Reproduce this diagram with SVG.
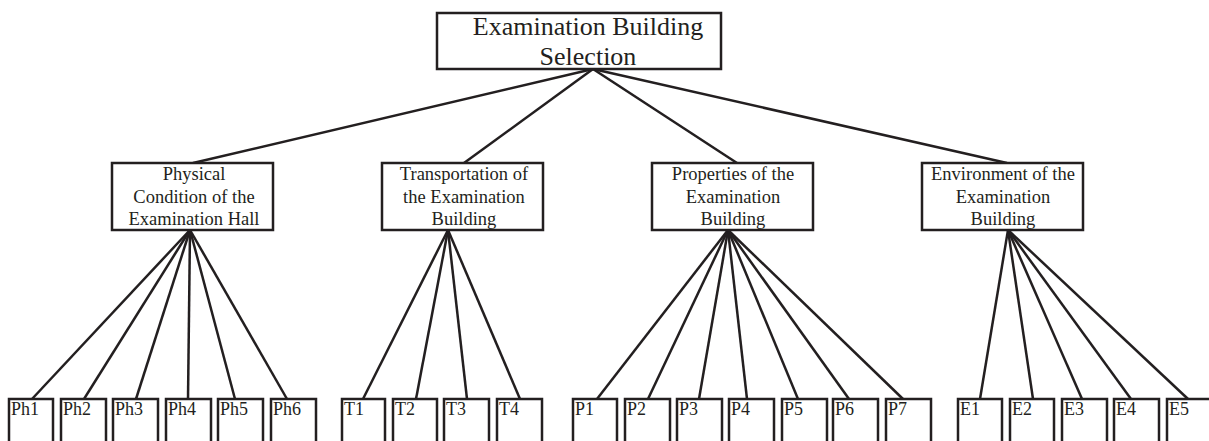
<svg xmlns="http://www.w3.org/2000/svg" width="1209" height="441" viewBox="0 0 1209 441">
<style>
rect{fill:#fff;stroke:#231f20;stroke-width:2.5}
line{stroke:#231f20;stroke-width:2.5}
text{font-family:"Liberation Serif",serif;fill:#231f20}
.t{font-size:26px;text-anchor:middle}
.m{font-size:18.5px;text-anchor:middle}
.l{font-size:18px}
</style>
<g id="connectors">
<line x1="593" y1="69" x2="193" y2="163"/>
<line x1="593" y1="69" x2="464" y2="163"/>
<line x1="593" y1="69" x2="737" y2="163"/>
<line x1="593" y1="69" x2="1007" y2="163"/>
<line x1="190" y1="230" x2="32" y2="399"/>
<line x1="190" y1="230" x2="84" y2="399"/>
<line x1="190" y1="230" x2="136" y2="399"/>
<line x1="190" y1="230" x2="188" y2="399"/>
<line x1="190" y1="230" x2="235" y2="399"/>
<line x1="190" y1="230" x2="287" y2="399"/>
<line x1="448" y1="230" x2="363" y2="399"/>
<line x1="448" y1="230" x2="416" y2="399"/>
<line x1="448" y1="230" x2="467" y2="399"/>
<line x1="448" y1="230" x2="520" y2="399"/>
<line x1="728" y1="230" x2="597" y2="399"/>
<line x1="728" y1="230" x2="648" y2="399"/>
<line x1="728" y1="230" x2="699" y2="399"/>
<line x1="728" y1="230" x2="747" y2="399"/>
<line x1="728" y1="230" x2="798" y2="399"/>
<line x1="728" y1="230" x2="849" y2="399"/>
<line x1="728" y1="230" x2="903" y2="399"/>
<line x1="1008" y1="230" x2="980" y2="399"/>
<line x1="1008" y1="230" x2="1033" y2="399"/>
<line x1="1008" y1="230" x2="1082" y2="399"/>
<line x1="1008" y1="230" x2="1131" y2="399"/>
<line x1="1008" y1="230" x2="1188" y2="399"/>
</g>
<g id="root"><rect x="437" y="13" width="284" height="56"/><text class="t" x="588" y="35">Examination Building</text><text class="t" x="588" y="65">Selection</text></g>
<g id="physical"><rect x="112" y="163" width="161" height="67"/><text class="m" x="194" y="180">Physical</text><text class="m" x="194" y="203">Condition of the</text><text class="m" x="194" y="225">Examination Hall</text></g>
<g id="transport"><rect x="382" y="163" width="161" height="67"/><text class="m" x="464" y="180">Transportation of</text><text class="m" x="464" y="203">the Examination</text><text class="m" x="464" y="225">Building</text></g>
<g id="properties"><rect x="652" y="163" width="161" height="67"/><text class="m" x="733" y="180">Properties of the</text><text class="m" x="733" y="203">Examination</text><text class="m" x="733" y="225">Building</text></g>
<g id="environment"><rect x="922" y="163" width="161" height="67"/><text class="m" x="1003" y="180">Environment of the</text><text class="m" x="1003" y="203">Examination</text><text class="m" x="1003" y="225">Building</text></g>
<g id="Ph1"><rect x="9" y="399" width="44" height="50"/><text class="l" x="11" y="415">Ph1</text></g>
<g id="Ph2"><rect x="61" y="399" width="45" height="50"/><text class="l" x="63" y="415">Ph2</text></g>
<g id="Ph3"><rect x="113" y="399" width="45" height="50"/><text class="l" x="115" y="415">Ph3</text></g>
<g id="Ph4"><rect x="166" y="399" width="45" height="50"/><text class="l" x="168" y="415">Ph4</text></g>
<g id="Ph5"><rect x="218" y="399" width="45" height="50"/><text class="l" x="220" y="415">Ph5</text></g>
<g id="Ph6"><rect x="271" y="399" width="45" height="50"/><text class="l" x="273" y="415">Ph6</text></g>
<g id="T1"><rect x="342" y="399" width="43" height="50"/><text class="l" x="344" y="415">T1</text></g>
<g id="T2"><rect x="393" y="399" width="44" height="50"/><text class="l" x="395" y="415">T2</text></g>
<g id="T3"><rect x="444" y="399" width="45" height="50"/><text class="l" x="446" y="415">T3</text></g>
<g id="T4"><rect x="497" y="399" width="45" height="50"/><text class="l" x="499" y="415">T4</text></g>
<g id="P1"><rect x="573" y="399" width="44" height="50"/><text class="l" x="575" y="415">P1</text></g>
<g id="P2"><rect x="625" y="399" width="45" height="50"/><text class="l" x="627" y="415">P2</text></g>
<g id="P3"><rect x="677" y="399" width="45" height="50"/><text class="l" x="679" y="415">P3</text></g>
<g id="P4"><rect x="729" y="399" width="45" height="50"/><text class="l" x="731" y="415">P4</text></g>
<g id="P5"><rect x="782" y="399" width="45" height="50"/><text class="l" x="784" y="415">P5</text></g>
<g id="P6"><rect x="833" y="399" width="45" height="50"/><text class="l" x="835" y="415">P6</text></g>
<g id="P7"><rect x="886" y="399" width="45" height="50"/><text class="l" x="888" y="415">P7</text></g>
<g id="E1"><rect x="958" y="399" width="44" height="50"/><text class="l" x="960" y="415">E1</text></g>
<g id="E2"><rect x="1010" y="399" width="44" height="50"/><text class="l" x="1012" y="415">E2</text></g>
<g id="E3"><rect x="1062" y="399" width="45" height="50"/><text class="l" x="1064" y="415">E3</text></g>
<g id="E4"><rect x="1114" y="399" width="45" height="50"/><text class="l" x="1116" y="415">E4</text></g>
<g id="E5"><rect x="1167" y="399" width="45" height="50"/><text class="l" x="1169" y="415">E5</text></g>
</svg>
